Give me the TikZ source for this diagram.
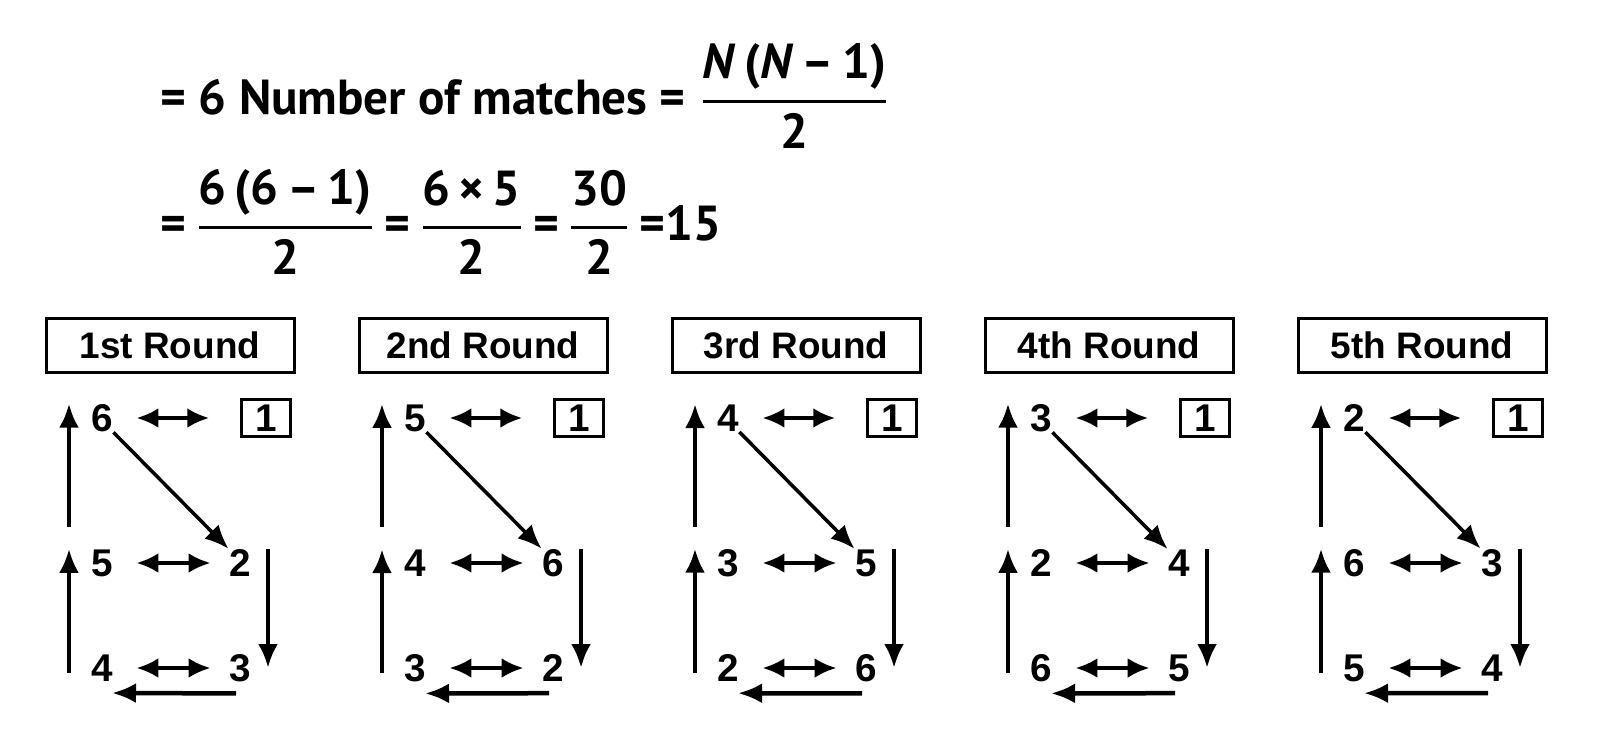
\documentclass[tikz,border=0pt]{standalone}
\usepackage{amsmath}
\usepackage{fontspec}
\setmainfont{PT Sans}
\newfontfamily\panelfont{Liberation Sans}
\usetikzlibrary{arrows.meta,positioning}

\newcommand{\numfrac}[2]{{\nulldelimiterspace=2.5pt\genfrac{}{}{1pt}{0}{\text{#1}}{\text{#2}}}}

\tikzset{
  formula/.style={anchor=base west,font=\fontsize{14}{16}\selectfont\bfseries},
  roundbox/.style={draw,line width=0.3mm,minimum width=2.48cm,minimum height=0.54cm,inner sep=0pt,
    font=\panelfont\fontsize{10.5}{12}\selectfont\bfseries},
  team/.style={inner sep=0pt,font=\panelfont\fontsize{11}{12}\selectfont\bfseries},
  seed/.style={team,draw,line width=0.25mm,minimum width=0.49cm,minimum height=0.37cm},
  matchline/.style={{Latex[length=2.2mm,width=2mm]}-{Latex[length=2.2mm,width=2mm]},
    line width=0.4mm,shorten <=2.3mm,shorten >=1.8mm},
  moveline/.style={-{Latex[length=2.4mm,width=2mm]},line width=0.45mm},
}

\begin{document}
\begin{tikzpicture}[on grid]
    \useasboundingbox (0,0) rectangle (16,-7.36);

    %formula
    \node[formula] (f_1) at (1.48,-1.14)
      {= 6 Number of matches = $\numfrac{\textit{N}\,(\textit{N}\,–\,1)}{2}$};
    \node[formula] (f_2) at (1.48,-2.40)
      {=\,$\numfrac{6\,(6\,–\,1)}{2}$\,=\,$\numfrac{6\,×\,5}{2}$\,=\,$\numfrac{30}{2}$\,=15};

    %1st round
    \node[team] (r1_6) at (1.02,-4.18) {6};
    \node[roundbox] (t_1) [above right=0.73cm and 0.68cm of r1_6] {1st Round};
    \node[seed] (r1_1) [right=1.64cm of r1_6] {1};
    \node[team] (r1_5) [below=1.45cm of r1_6] {5};
    \node[team] (r1_2) [right=1.38cm of r1_5] {2};
    \node[team] (r1_4) [below=1.05cm of r1_5] {4};
    \node[team] (r1_3) [right=1.38cm of r1_4] {3};

    %2nd round
    \node[team] (r2_5) [right=3.13cm of r1_6] {5};
    \node[roundbox] (t_2) [above right=0.73cm and 0.68cm of r2_5] {2nd Round};
    \node[seed] (r2_1) [right=1.64cm of r2_5] {1};
    \node[team] (r2_4) [below=1.45cm of r2_5] {4};
    \node[team] (r2_6) [right=1.38cm of r2_4] {6};
    \node[team] (r2_3) [below=1.05cm of r2_4] {3};
    \node[team] (r2_2) [right=1.38cm of r2_3] {2};

    %3rd round
    \node[team] (r3_4) [right=3.13cm of r2_5] {4};
    \node[roundbox] (t_3) [above right=0.73cm and 0.68cm of r3_4] {3rd Round};
    \node[seed] (r3_1) [right=1.64cm of r3_4] {1};
    \node[team] (r3_3) [below=1.45cm of r3_4] {3};
    \node[team] (r3_5) [right=1.38cm of r3_3] {5};
    \node[team] (r3_2) [below=1.05cm of r3_3] {2};
    \node[team] (r3_6) [right=1.38cm of r3_2] {6};

    %4th round
    \node[team] (r4_3) [right=3.13cm of r3_4] {3};
    \node[roundbox] (t_4) [above right=0.73cm and 0.68cm of r4_3] {4th Round};
    \node[seed] (r4_1) [right=1.64cm of r4_3] {1};
    \node[team] (r4_2) [below=1.45cm of r4_3] {2};
    \node[team] (r4_4) [right=1.38cm of r4_2] {4};
    \node[team] (r4_6) [below=1.05cm of r4_2] {6};
    \node[team] (r4_5) [right=1.38cm of r4_6] {5};

    %5th round
    \node[team] (r5_2) [right=3.13cm of r4_3] {2};
    \node[roundbox] (t_5) [above right=0.73cm and 0.68cm of r5_2] {5th Round};
    \node[seed] (r5_1) [right=1.64cm of r5_2] {1};
    \node[team] (r5_6) [below=1.45cm of r5_2] {6};
    \node[team] (r5_3) [right=1.38cm of r5_6] {3};
    \node[team] (r5_5) [below=1.05cm of r5_6] {5};
    \node[team] (r5_4) [right=1.38cm of r5_5] {4};

    %matches 1st round
    \draw[matchline,shorten >=3.1mm] (r1_6) -- (r1_1);
    \draw[matchline] (r1_5) -- (r1_2);
    \draw[matchline] (r1_4) -- (r1_3);
    %rotation 1st round
    \draw[moveline] ([xshift=-3.3mm,yshift=2.2mm]r1_5.north) -- ([xshift=-3.3mm]r1_6.north);
    \draw[moveline] ([xshift=-3.3mm,yshift=-0.5mm]r1_4.center) -- ([xshift=-3.3mm]r1_5.north);
    \draw[moveline] ([xshift=2.8mm]r1_2.north) -- ([xshift=2.8mm]r1_3.center);
    \draw[moveline] ([xshift=-0.4mm,yshift=-1.1mm]r1_3.south) -- ([xshift=1mm,yshift=-1.1mm]r1_4.south);
    \draw[moveline,line width=0.35mm] (r1_6.south east) -- (r1_2.north west);

    %matches 2nd round
    \draw[matchline,shorten >=3.1mm] (r2_5) -- (r2_1);
    \draw[matchline] (r2_4) -- (r2_6);
    \draw[matchline] (r2_3) -- (r2_2);
    %rotation 2nd round
    \draw[moveline] ([xshift=-3.3mm,yshift=2.2mm]r2_4.north) -- ([xshift=-3.3mm]r2_5.north);
    \draw[moveline] ([xshift=-3.3mm,yshift=-0.5mm]r2_3.center) -- ([xshift=-3.3mm]r2_4.north);
    \draw[moveline] ([xshift=2.8mm]r2_6.north) -- ([xshift=2.8mm]r2_2.center);
    \draw[moveline] ([xshift=-0.4mm,yshift=-1.1mm]r2_2.south) -- ([xshift=1mm,yshift=-1.1mm]r2_3.south);
    \draw[moveline,line width=0.35mm] (r2_5.south east) -- (r2_6.north west);

    %matches 3rd round
    \draw[matchline,shorten >=3.1mm] (r3_4) -- (r3_1);
    \draw[matchline] (r3_3) -- (r3_5);
    \draw[matchline] (r3_2) -- (r3_6);
    %rotation 3rd round
    \draw[moveline] ([xshift=-3.3mm,yshift=2.2mm]r3_3.north) -- ([xshift=-3.3mm]r3_4.north);
    \draw[moveline] ([xshift=-3.3mm,yshift=-0.5mm]r3_2.center) -- ([xshift=-3.3mm]r3_3.north);
    \draw[moveline] ([xshift=2.8mm]r3_5.north) -- ([xshift=2.8mm]r3_6.center);
    \draw[moveline] ([xshift=-0.4mm,yshift=-1.1mm]r3_6.south) -- ([xshift=1mm,yshift=-1.1mm]r3_2.south);
    \draw[moveline,line width=0.35mm] (r3_4.south east) -- (r3_5.north west);

    %matches 4th round
    \draw[matchline,shorten >=3.1mm] (r4_3) -- (r4_1);
    \draw[matchline] (r4_2) -- (r4_4);
    \draw[matchline] (r4_6) -- (r4_5);
    %rotation 4th round
    \draw[moveline] ([xshift=-3.3mm,yshift=2.2mm]r4_2.north) -- ([xshift=-3.3mm]r4_3.north);
    \draw[moveline] ([xshift=-3.3mm,yshift=-0.5mm]r4_6.center) -- ([xshift=-3.3mm]r4_2.north);
    \draw[moveline] ([xshift=2.8mm]r4_4.north) -- ([xshift=2.8mm]r4_5.center);
    \draw[moveline] ([xshift=-0.4mm,yshift=-1.1mm]r4_5.south) -- ([xshift=1mm,yshift=-1.1mm]r4_6.south);
    \draw[moveline,line width=0.35mm] (r4_3.south east) -- (r4_4.north west);

    %matches 5th round
    \draw[matchline,shorten >=3.1mm] (r5_2) -- (r5_1);
    \draw[matchline] (r5_6) -- (r5_3);
    \draw[matchline] (r5_5) -- (r5_4);
    %rotation 5th round
    \draw[moveline] ([xshift=-3.3mm,yshift=2.2mm]r5_6.north) -- ([xshift=-3.3mm]r5_2.north);
    \draw[moveline] ([xshift=-3.3mm,yshift=-0.5mm]r5_5.center) -- ([xshift=-3.3mm]r5_6.north);
    \draw[moveline] ([xshift=2.8mm]r5_3.north) -- ([xshift=2.8mm]r5_4.center);
    \draw[moveline] ([xshift=-0.4mm,yshift=-1.1mm]r5_4.south) -- ([xshift=1mm,yshift=-1.1mm]r5_5.south);
    \draw[moveline,line width=0.35mm] (r5_2.south east) -- (r5_3.north west);

\end{tikzpicture}
\end{document}
